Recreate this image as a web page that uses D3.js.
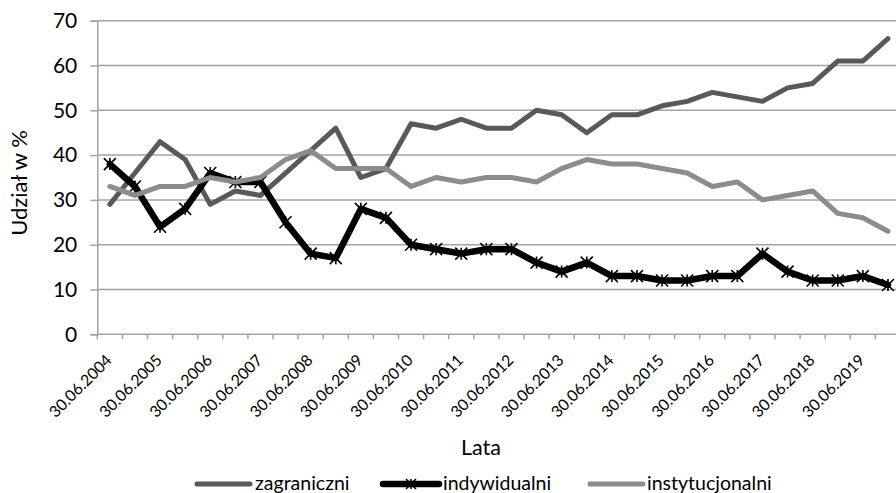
<!DOCTYPE html>
<html>
<head>
<meta charset="utf-8">
<script src="https://cdn.jsdelivr.net/npm/d3@7"></script>
<style>
  html, body { margin: 0; padding: 0; background: #fff; }
  svg { display: block; font-family: Lato, "Open Sans", sans-serif; }
  text { -webkit-font-smoothing: antialiased; }
</style>
</head>
<body>
<svg id="chart" width="896" height="493"></svg>
<script>
// Semi-annual reporting dates (June / December), 2004–2019
const categories = [
  "30.06.2004", "31.12.2004", "30.06.2005", "31.12.2005",
  "30.06.2006", "31.12.2006", "30.06.2007", "31.12.2007",
  "30.06.2008", "31.12.2008", "30.06.2009", "31.12.2009",
  "30.06.2010", "31.12.2010", "30.06.2011", "31.12.2011",
  "30.06.2012", "31.12.2012", "30.06.2013", "31.12.2013",
  "30.06.2014", "31.12.2014", "30.06.2015", "31.12.2015",
  "30.06.2016", "31.12.2016", "30.06.2017", "31.12.2017",
  "30.06.2018", "31.12.2018", "30.06.2019", "31.12.2019"
];

// Share of each investor group, in %
const zagraniczni = [29, 36, 43, 39, 29, 32, 31, 36, 41, 46, 35, 37, 47, 46, 48, 46,
                     46, 50, 49, 45, 49, 49, 51, 52, 54, 53, 52, 55, 56, 61, 61, 66];
const indywidualni = [38, 33, 24, 28, 36, 34, 34, 25, 18, 17, 28, 26, 20, 19, 18, 19,
                      19, 16, 14, 16, 13, 13, 12, 12, 13, 13, 18, 14, 12, 12, 13, 11];
const instytucjonalni = [33, 31, 33, 33, 35, 34, 35, 39, 41, 37, 37, 37, 33, 35, 34, 35,
                         35, 34, 37, 39, 38, 38, 37, 36, 33, 34, 30, 31, 32, 27, 26, 23];

const yTicks = [0, 10, 20, 30, 40, 50, 60, 70];
const xTickLabels = categories.filter((d, i) => i % 2 === 0);

const seriesNames = ["zagraniczni", "indywidualni", "instytucjonalni"];
const seriesValues = [zagraniczni, indywidualni, instytucjonalni];
const seriesColors = ["#595959", "#000000", "#8c8c8c"];
const seriesWidths = [5, 6.5, 5];
const seriesMarkers = [false, true, false];

const svg = d3.select("#chart");
const plot = { left: 97.3, right: 900.5, top: 20.7, bottom: 334.3 };

const x = d3.scaleBand().domain(categories).range([plot.left, plot.right]).padding(0);
const y = d3.scaleLinear().domain([0, 70]).range([plot.bottom, plot.top]);
const cx = d => x(d) + x.bandwidth() / 2;

const gridColor = "#a3a3a3";

// horizontal gridlines
svg.append("g")
  .selectAll("line")
  .data(yTicks.filter(t => t > 0))
  .join("line")
  .attr("x1", plot.left).attr("x2", plot.right)
  .attr("y1", d => y(d)).attr("y2", d => y(d))
  .attr("stroke", gridColor).attr("stroke-width", 1.5);

// y axis
const yAxis = svg.append("g")
  .attr("transform", `translate(${plot.left},0)`)
  .call(d3.axisLeft(y).tickValues(yTicks).tickSize(7).tickPadding(13));
yAxis.select(".domain").attr("stroke", gridColor).attr("stroke-width", 1.5);
yAxis.selectAll(".tick line").attr("stroke", gridColor).attr("stroke-width", 1.5);
yAxis.selectAll(".tick text")
  .attr("font-size", 21).attr("fill", "#000")
  .attr("font-family", "Lato, sans-serif");

// x axis line with tick marks between categories
const xAxisG = svg.append("g");
xAxisG.append("line")
  .attr("x1", plot.left).attr("x2", plot.right)
  .attr("y1", y(0)).attr("y2", y(0))
  .attr("stroke", gridColor).attr("stroke-width", 1.5);
const boundaries = categories.map(c => x(c)).concat([x(categories[categories.length - 1]) + x.bandwidth()]);
xAxisG.selectAll("line.tick")
  .data(boundaries)
  .join("line")
  .attr("class", "tick")
  .attr("x1", d => d).attr("x2", d => d)
  .attr("y1", y(0)).attr("y2", y(0) + 5)
  .attr("stroke", gridColor).attr("stroke-width", 1.5);

// rotated category labels (every second date)
xAxisG.selectAll("text")
  .data(xTickLabels)
  .join("text")
  .attr("transform", d => `translate(${cx(d) + 3},${y(0) + 27}) rotate(-45)`)
  .attr("text-anchor", "end")
  .attr("font-size", 15.8)
  .attr("fill", "#000")
  .text(d => d);

// series lines
const line = d3.line()
  .x((d, i) => cx(categories[i]))
  .y(d => y(d));

seriesValues.forEach((vals, s) => {
  const g = svg.append("g");
  g.append("path")
    .datum(vals)
    .attr("d", line)
    .attr("fill", "none")
    .attr("stroke", seriesColors[s])
    .attr("stroke-width", seriesWidths[s])
    .attr("stroke-linejoin", "round")
    .attr("stroke-linecap", "round");
  if (seriesMarkers[s]) {
    const r = 6;
    const star = `M${-r},${-r}L${r},${r}M${-r},${r}L${r},${-r}M0,${-r}L0,${r}`;
    g.selectAll("path.marker")
      .data(vals)
      .join("path")
      .attr("class", "marker")
      .attr("transform", (d, i) => `translate(${cx(categories[i])},${y(d)})`)
      .attr("d", star)
      .attr("stroke", seriesColors[s])
      .attr("stroke-width", 1.6)
      .attr("fill", "none");
  }
});

// axis titles
svg.append("text")
  .attr("x", 481).attr("y", 455)
  .attr("text-anchor", "middle")
  .attr("font-size", 21.5)
  .attr("fill", "#000")
  .text("Lata");

svg.append("text")
  .attr("transform", "translate(27,183) rotate(-90)")
  .attr("text-anchor", "middle")
  .attr("font-size", 22)
  .attr("fill", "#000")
  .text("Udział w %");

// legend
const legendItems = [
  { x0: 197, x1: 250, tx: 255 },
  { x0: 383, x1: 439, tx: 443 },
  { x0: 590, x1: 643, tx: 647 }
];
const legend = svg.append("g");
legendItems.forEach((it, s) => {
  const ly = 484;
  legend.append("line")
    .attr("x1", it.x0).attr("x2", it.x1)
    .attr("y1", ly).attr("y2", ly)
    .attr("stroke", seriesColors[s])
    .attr("stroke-width", seriesWidths[s])
    .attr("stroke-linecap", "round");
  if (seriesMarkers[s]) {
    const r = 5;
    const mx = (it.x0 + it.x1) / 2;
    legend.append("path")
      .attr("transform", `translate(${mx},${ly})`)
      .attr("d", `M${-r},${-r}L${r},${r}M${-r},${r}L${r},${-r}M0,${-r}L0,${r}`)
      .attr("stroke", seriesColors[s])
      .attr("stroke-width", 1.5)
      .attr("fill", "none");
  }
  legend.append("text")
    .attr("x", it.tx).attr("y", 490)
    .attr("font-size", 19.5)
    .attr("fill", "#000")
    .text(seriesNames[s]);
});
</script>
</body>
</html>
